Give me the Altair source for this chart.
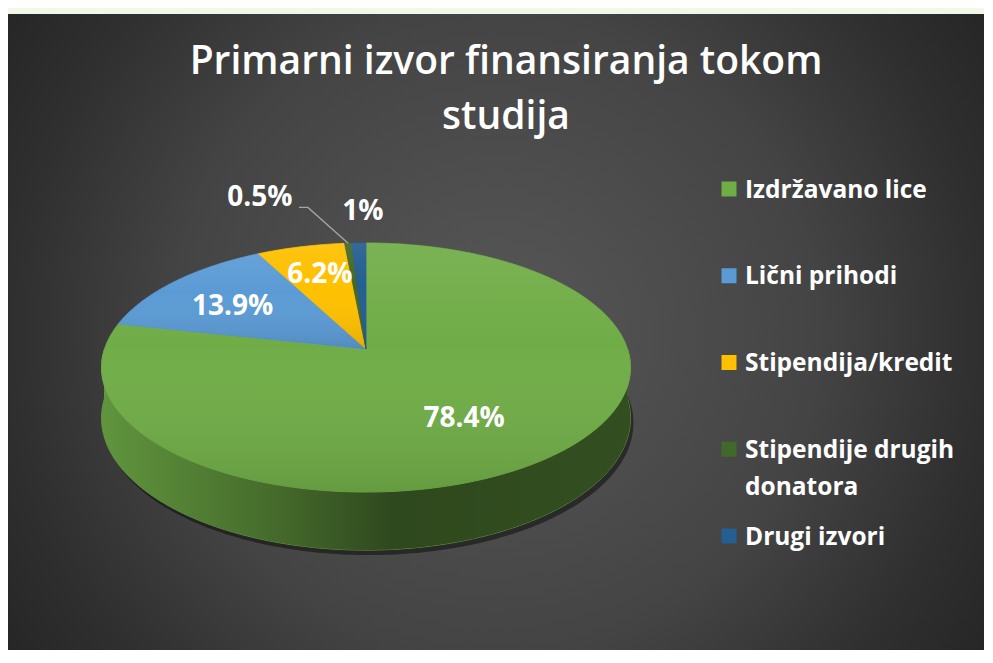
import math
import textwrap
import pandas as pd
import altair as alt

# ---------------- data ----------------
categories = ["Izdržavano lice", "Lični prihodi", "Stipendija/kredit",
              "Stipendije drugih donatora", "Drugi izvori"]
shares = [78.4, 13.9, 6.2, 0.5, 1.0]
share_labels = ["78.4%", "13.9%", "6.2%", "0.5%", "1%"]
colors = ["#70AD47", "#5B9BD5", "#FFC000", "#43682B", "#255E91"]
title_lines = ["Primarni izvor finansiranja tokom", "studija"]

# ---------------- layout / style ----------------
W, H = 976, 642
CX, CY = 358.0, 341.0          # projected centre of pie top
WX, HY = 261.5, 121.8          # projected half-axes
K = 0.1486                     # perspective factor
DEPTH = 49.4                   # pie thickness
LABEL_NUDGE = {"Izdržavano lice": (-4, 11), "Lični prihodi": (0, 5),
               "Stipendija/kredit": (0, -2),
               "Stipendije drugih donatora": (-83, -14), "Drugi izvori": (6, 0)}
LEADER_CATS = {"Stipendije drugih donatora"}
FONT = "Open Sans"


def proj(a_deg, r=1.0, drop=0.0):
    a = math.radians(a_deg)
    s = 1 + K * r * math.cos(a)
    return (CX + WX * r * math.sin(a) / s,
            CY - HY * r * math.cos(a) / s + drop / s)


total = sum(shares)
top_rows, side_rows, lab_rows, lead_rows = [], [], [], []
start = 0.0
for cat, v, lab in zip(categories, shares, share_labels):
    span = v / total * 360.0
    a0, a1 = start, start + span
    n = max(2, int(math.ceil(span)))
    pts = [(CX, CY)] + [proj(a0 + span * j / n) for j in range(n + 1)] + [(CX, CY)]
    for i, (x, y) in enumerate(pts):
        top_rows.append(dict(cat=cat, i=i, x=x, y=y))
    lo, hi = max(a0, 90.0), min(a1, 270.0)
    if hi > lo:
        m = max(2, int(math.ceil(hi - lo)))
        ring = [proj(lo + (hi - lo) * j / m) for j in range(m + 1)]
        ring += [proj(lo + (hi - lo) * j / m, drop=DEPTH) for j in range(m, -1, -1)]
        for i, (x, y) in enumerate(ring):
            side_rows.append(dict(cat=cat, i=i, x=x, y=y))
    mid = (a0 + a1) / 2
    if v < 2:
        r = 1.35
    elif v >= 50:
        r = 0.58
    else:
        r = 0.68
    lx, ly = proj(mid, r)
    dx, dy = LABEL_NUDGE.get(cat, (0, 0))
    lx, ly = lx + dx, ly + dy
    if cat in LEADER_CATS:
        p0 = proj(mid)
        for i, (x, y) in enumerate([p0, (lx + 48, ly + 9), (lx + 39, ly + 9)]):
            lead_rows.append(dict(cat=cat, i=i, x=x, y=y))
    lab_rows.append(dict(cat=cat, x=lx, y=ly, text=lab))
    start = a1

shadow_rows = []
for j in range(361):
    x, y = proj(j, drop=DEPTH)
    shadow_rows.append(dict(i=j, x=x + 3, y=y + 5))

df_top = pd.DataFrame(top_rows)
df_side = pd.DataFrame(side_rows)
df_lab = pd.DataFrame(lab_rows)
df_lead = pd.DataFrame(lead_rows)
df_shadow = pd.DataFrame(shadow_rows)
df_leg = pd.DataFrame({"cat": categories,
                       "label": [textwrap.fill(c, 18) for c in categories]})

xs = alt.Scale(domain=[0, W], nice=False, zero=False)
ys = alt.Scale(domain=[0, H], reverse=True, nice=False, zero=False)
X = alt.X("x:Q", scale=xs, axis=None)
Y = alt.Y("y:Q", scale=ys, axis=None)
col = alt.Color("cat:N", scale=alt.Scale(domain=categories, range=colors), legend=None)
strk = alt.Stroke("cat:N", scale=alt.Scale(domain=categories, range=colors), legend=None)

panel = alt.Chart(pd.DataFrame({"a": [0]})).mark_rect(
    fill={"gradient": "radial", "x1": 0.5, "y1": 0.5, "r1": 0,
          "x2": 0.5, "y2": 0.5, "r2": 0.6,
          "stops": [{"offset": 0, "color": "#575757"},
                    {"offset": 0.55, "color": "#444444"},
                    {"offset": 0.83, "color": "#2f2f2f"},
                    {"offset": 1, "color": "#262626"}]}
).encode(x=alt.value(0), x2=alt.value(W), y=alt.value(6), y2=alt.value(H))

shadow = alt.Chart(df_shadow).mark_line(filled=True, fill="#000000", opacity=0.45).encode(
    x=X, y=Y, order="i:Q")

side = alt.Chart(df_side).mark_line(filled=True, strokeWidth=0.8).encode(
    x=X, y=Y, order="i:Q", detail="cat:N", color=col, stroke=strk)

side_shade = alt.Chart(df_side).mark_line(
    filled=True,
    fill={"gradient": "linear", "x1": 0, "y1": 0, "x2": 1, "y2": 0,
          "stops": [{"offset": 0, "color": "rgba(0,0,0,0.14)"},
                    {"offset": 0.3, "color": "rgba(0,0,0,0.36)"},
                    {"offset": 0.55, "color": "rgba(0,0,0,0.58)"},
                    {"offset": 1, "color": "rgba(0,0,0,0.55)"}]}
).encode(x=X, y=Y, order="i:Q", detail="cat:N")

top = alt.Chart(df_top).mark_line(filled=True, strokeWidth=0.8).encode(
    x=X, y=Y, order="i:Q", detail="cat:N", color=col, stroke=strk)

top_shade = alt.Chart(df_top).mark_line(
    filled=True,
    fill={"gradient": "linear", "x1": 0, "y1": 0, "x2": 0, "y2": 1,
          "stops": [{"offset": 0, "color": "rgba(255,255,255,0.07)"},
                    {"offset": 0.4, "color": "rgba(255,255,255,0)"},
                    {"offset": 1, "color": "rgba(0,0,0,0.10)"}]}
).encode(x=X, y=Y, order="i:Q", detail="cat:N")

leader = alt.Chart(df_lead).mark_line(color="#a6a6a6", strokeWidth=1.3).encode(
    x=X, y=Y, order="i:Q", detail="cat:N")

labels = alt.Chart(df_lab).mark_text(
    font=FONT, fontWeight="bold", fontSize=28, color="white",
    align="center", baseline="middle").encode(x=X, y=Y, text="text:N")

leg_y = alt.Y("cat:N", scale=alt.Scale(domain=categories, range=[181, 528], padding=0), axis=None)
leg_sq = alt.Chart(df_leg).mark_square(size=225, opacity=1).encode(
    x=alt.value(721), y=leg_y, color=col)
leg_txt = alt.Chart(df_leg).mark_text(
    font=FONT, fontWeight="bold", fontSize=24.5, color="white", align="left",
    baseline="alphabetic", dy=8.5, lineBreak="\n", lineHeight=37).encode(
    x=alt.value(737), y=leg_y, text="label:N")

df_title = pd.DataFrame({"t": ["\n".join(title_lines)]})
title = alt.Chart(df_title).mark_text(
    color="white", font=FONT, fontWeight=600, fontSize=39, align="center",
    baseline="alphabetic", lineBreak="\n", lineHeight=55).encode(
    x=alt.value(498), y=alt.value(66), text="t:N")

chart = alt.layer(panel, shadow, side, side_shade, top, top_shade, leader, labels,
                  leg_sq, leg_txt, title).resolve_scale(y="independent").properties(
    width=W, height=H, padding=0, background="#f1f7e9",
    autosize=alt.AutoSizeParams(type="none")
).configure_view(stroke=None)

chart.save("out.html", embed_options={"renderer": "svg", "actions": False})
